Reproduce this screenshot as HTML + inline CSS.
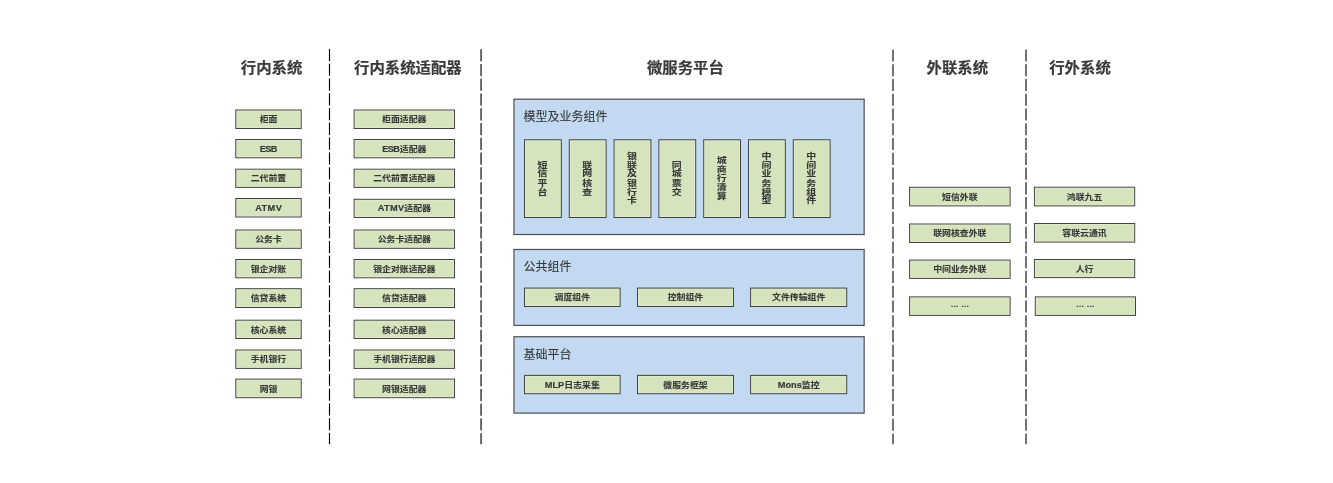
<!DOCTYPE html>
<html lang="zh-CN">
<head>
<meta charset="utf-8">
<title>微服务平台</title>
<style>
html,body{margin:0;padding:0;background:#fff;}
body{width:1333px;height:483px;overflow:hidden;position:relative;font-family:"Liberation Sans", "Noto Sans CJK SC", sans-serif;color:#404040;}
#stage{will-change:transform;position:absolute;left:0;top:0;width:1333px;height:483px;overflow:hidden;background:#fff;}
#stage svg{position:absolute;left:0;top:0;}
.hd,.lb,.vt{position:absolute;white-space:nowrap;font-weight:bold;}
.in{width:100%;height:100%;display:flex;align-items:center;justify-content:center;}
.hd{font-size:15.4px;line-height:24px;color:#393939;-webkit-text-stroke:0.2px #393939;}
.lb{font-size:8.9px;line-height:12px;color:#383838;-webkit-text-stroke:0.1px #383838;}
.la{display:inline-block;font-weight:bold;-webkit-text-stroke:0.18px #383838;transform:scaleY(1.1);transform-origin:50% 81%;}
.vt{font-size:8.9px;line-height:9.57px;text-align:center;color:#383838;-webkit-text-stroke:0.1px #383838;}
.vt span{display:block;width:1.3em;white-space:normal;word-break:break-all;}
.pl{position:absolute;font-size:12px;line-height:20px;white-space:nowrap;color:#363636;-webkit-text-stroke:0.1px #363636;}
.el{font-style:normal;position:relative;top:-3px;font-size:8.2px;font-weight:bold;}
</style>
</head>
<body>
<div id="stage">
<svg width="1333" height="483" viewBox="0 0 1333 483">
<line x1="329.50" y1="49.00" x2="329.50" y2="444.30" stroke="#000" stroke-width="1.15" stroke-dasharray="12.1 2.67"/>
<line x1="481.05" y1="49.20" x2="481.05" y2="444.30" stroke="#000" stroke-width="1.15" stroke-dasharray="12.1 2.67"/>
<line x1="893.00" y1="49.40" x2="893.00" y2="444.30" stroke="#000" stroke-width="1.1" stroke-dasharray="12.1 2.67"/>
<line x1="1026.00" y1="49.40" x2="1026.00" y2="444.30" stroke="#000" stroke-width="1.1" stroke-dasharray="12.1 2.67"/>
<rect x="235.80" y="110.00" width="65.40" height="18.50" fill="#d5e4bd" stroke="#424242" stroke-width="1"/>
<rect x="236.80" y="111.00" width="63.40" height="16.50" fill="none" stroke="#fff" stroke-opacity="0.22" stroke-width="1"/>
<rect x="235.80" y="139.50" width="65.40" height="18.30" fill="#d5e4bd" stroke="#424242" stroke-width="1"/>
<rect x="236.80" y="140.50" width="63.40" height="16.30" fill="none" stroke="#fff" stroke-opacity="0.22" stroke-width="1"/>
<rect x="235.80" y="169.20" width="65.40" height="18.20" fill="#d5e4bd" stroke="#424242" stroke-width="1"/>
<rect x="236.80" y="170.20" width="63.40" height="16.20" fill="none" stroke="#fff" stroke-opacity="0.22" stroke-width="1"/>
<rect x="235.80" y="198.50" width="65.40" height="18.50" fill="#d5e4bd" stroke="#424242" stroke-width="1"/>
<rect x="236.80" y="199.50" width="63.40" height="16.50" fill="none" stroke="#fff" stroke-opacity="0.22" stroke-width="1"/>
<rect x="235.80" y="230.00" width="65.40" height="18.30" fill="#d5e4bd" stroke="#424242" stroke-width="1"/>
<rect x="236.80" y="231.00" width="63.40" height="16.30" fill="none" stroke="#fff" stroke-opacity="0.22" stroke-width="1"/>
<rect x="235.80" y="259.50" width="65.40" height="18.30" fill="#d5e4bd" stroke="#424242" stroke-width="1"/>
<rect x="236.80" y="260.50" width="63.40" height="16.30" fill="none" stroke="#fff" stroke-opacity="0.22" stroke-width="1"/>
<rect x="235.80" y="288.70" width="65.40" height="18.80" fill="#d5e4bd" stroke="#424242" stroke-width="1"/>
<rect x="236.80" y="289.70" width="63.40" height="16.80" fill="none" stroke="#fff" stroke-opacity="0.22" stroke-width="1"/>
<rect x="235.80" y="320.20" width="65.40" height="18.30" fill="#d5e4bd" stroke="#424242" stroke-width="1"/>
<rect x="236.80" y="321.20" width="63.40" height="16.30" fill="none" stroke="#fff" stroke-opacity="0.22" stroke-width="1"/>
<rect x="235.80" y="350.00" width="65.40" height="18.40" fill="#d5e4bd" stroke="#424242" stroke-width="1"/>
<rect x="236.80" y="351.00" width="63.40" height="16.40" fill="none" stroke="#fff" stroke-opacity="0.22" stroke-width="1"/>
<rect x="235.80" y="379.10" width="65.40" height="18.60" fill="#d5e4bd" stroke="#424242" stroke-width="1"/>
<rect x="236.80" y="380.10" width="63.40" height="16.60" fill="none" stroke="#fff" stroke-opacity="0.22" stroke-width="1"/>
<rect x="354.10" y="110.00" width="100.40" height="18.50" fill="#d5e4bd" stroke="#424242" stroke-width="1"/>
<rect x="355.10" y="111.00" width="98.40" height="16.50" fill="none" stroke="#fff" stroke-opacity="0.22" stroke-width="1"/>
<rect x="354.10" y="139.50" width="100.40" height="18.30" fill="#d5e4bd" stroke="#424242" stroke-width="1"/>
<rect x="355.10" y="140.50" width="98.40" height="16.30" fill="none" stroke="#fff" stroke-opacity="0.22" stroke-width="1"/>
<rect x="354.10" y="169.20" width="100.40" height="18.20" fill="#d5e4bd" stroke="#424242" stroke-width="1"/>
<rect x="355.10" y="170.20" width="98.40" height="16.20" fill="none" stroke="#fff" stroke-opacity="0.22" stroke-width="1"/>
<rect x="354.10" y="199.30" width="100.40" height="18.20" fill="#d5e4bd" stroke="#424242" stroke-width="1"/>
<rect x="355.10" y="200.30" width="98.40" height="16.20" fill="none" stroke="#fff" stroke-opacity="0.22" stroke-width="1"/>
<rect x="354.10" y="230.00" width="100.40" height="18.30" fill="#d5e4bd" stroke="#424242" stroke-width="1"/>
<rect x="355.10" y="231.00" width="98.40" height="16.30" fill="none" stroke="#fff" stroke-opacity="0.22" stroke-width="1"/>
<rect x="354.10" y="259.50" width="100.40" height="18.30" fill="#d5e4bd" stroke="#424242" stroke-width="1"/>
<rect x="355.10" y="260.50" width="98.40" height="16.30" fill="none" stroke="#fff" stroke-opacity="0.22" stroke-width="1"/>
<rect x="354.10" y="288.70" width="100.40" height="18.80" fill="#d5e4bd" stroke="#424242" stroke-width="1"/>
<rect x="355.10" y="289.70" width="98.40" height="16.80" fill="none" stroke="#fff" stroke-opacity="0.22" stroke-width="1"/>
<rect x="354.10" y="320.20" width="100.40" height="18.30" fill="#d5e4bd" stroke="#424242" stroke-width="1"/>
<rect x="355.10" y="321.20" width="98.40" height="16.30" fill="none" stroke="#fff" stroke-opacity="0.22" stroke-width="1"/>
<rect x="354.10" y="350.00" width="100.40" height="18.40" fill="#d5e4bd" stroke="#424242" stroke-width="1"/>
<rect x="355.10" y="351.00" width="98.40" height="16.40" fill="none" stroke="#fff" stroke-opacity="0.22" stroke-width="1"/>
<rect x="354.10" y="379.10" width="100.40" height="18.60" fill="#d5e4bd" stroke="#424242" stroke-width="1"/>
<rect x="355.10" y="380.10" width="98.40" height="16.60" fill="none" stroke="#fff" stroke-opacity="0.22" stroke-width="1"/>
<rect x="514.00" y="99.20" width="350.14" height="135.29" fill="#c3d9f1" stroke="#4b5057" stroke-width="1.25"/>
<rect x="515.13" y="100.33" width="347.89" height="133.04" fill="none" stroke="#fff" stroke-opacity="0.12" stroke-width="1"/>
<rect x="514.00" y="249.50" width="350.14" height="75.89" fill="#c3d9f1" stroke="#4b5057" stroke-width="1.25"/>
<rect x="515.13" y="250.63" width="347.89" height="73.64" fill="none" stroke="#fff" stroke-opacity="0.12" stroke-width="1"/>
<rect x="514.00" y="336.75" width="350.14" height="76.34" fill="#c3d9f1" stroke="#4b5057" stroke-width="1.25"/>
<rect x="515.13" y="337.88" width="347.89" height="74.09" fill="none" stroke="#fff" stroke-opacity="0.12" stroke-width="1"/>
<rect x="524.50" y="139.80" width="36.80" height="77.70" fill="#d5e4bd" stroke="#424242" stroke-width="1"/>
<rect x="525.50" y="140.80" width="34.80" height="75.70" fill="none" stroke="#fff" stroke-opacity="0.22" stroke-width="1"/>
<rect x="569.30" y="139.80" width="36.80" height="77.70" fill="#d5e4bd" stroke="#424242" stroke-width="1"/>
<rect x="570.30" y="140.80" width="34.80" height="75.70" fill="none" stroke="#fff" stroke-opacity="0.22" stroke-width="1"/>
<rect x="614.10" y="139.80" width="36.80" height="77.70" fill="#d5e4bd" stroke="#424242" stroke-width="1"/>
<rect x="615.10" y="140.80" width="34.80" height="75.70" fill="none" stroke="#fff" stroke-opacity="0.22" stroke-width="1"/>
<rect x="658.90" y="139.80" width="36.80" height="77.70" fill="#d5e4bd" stroke="#424242" stroke-width="1"/>
<rect x="659.90" y="140.80" width="34.80" height="75.70" fill="none" stroke="#fff" stroke-opacity="0.22" stroke-width="1"/>
<rect x="703.70" y="139.80" width="36.80" height="77.70" fill="#d5e4bd" stroke="#424242" stroke-width="1"/>
<rect x="704.70" y="140.80" width="34.80" height="75.70" fill="none" stroke="#fff" stroke-opacity="0.22" stroke-width="1"/>
<rect x="748.50" y="139.80" width="36.80" height="77.70" fill="#d5e4bd" stroke="#424242" stroke-width="1"/>
<rect x="749.50" y="140.80" width="34.80" height="75.70" fill="none" stroke="#fff" stroke-opacity="0.22" stroke-width="1"/>
<rect x="793.30" y="139.80" width="36.80" height="77.70" fill="#d5e4bd" stroke="#424242" stroke-width="1"/>
<rect x="794.30" y="140.80" width="34.80" height="75.70" fill="none" stroke="#fff" stroke-opacity="0.22" stroke-width="1"/>
<rect x="524.50" y="288.10" width="95.60" height="18.40" fill="#d5e4bd" stroke="#424242" stroke-width="1"/>
<rect x="525.50" y="289.10" width="93.60" height="16.40" fill="none" stroke="#fff" stroke-opacity="0.22" stroke-width="1"/>
<rect x="637.50" y="288.10" width="96.00" height="18.40" fill="#d5e4bd" stroke="#424242" stroke-width="1"/>
<rect x="638.50" y="289.10" width="94.00" height="16.40" fill="none" stroke="#fff" stroke-opacity="0.22" stroke-width="1"/>
<rect x="750.60" y="288.10" width="96.10" height="18.40" fill="#d5e4bd" stroke="#424242" stroke-width="1"/>
<rect x="751.60" y="289.10" width="94.10" height="16.40" fill="none" stroke="#fff" stroke-opacity="0.22" stroke-width="1"/>
<rect x="524.50" y="375.40" width="95.60" height="18.30" fill="#d5e4bd" stroke="#424242" stroke-width="1"/>
<rect x="525.50" y="376.40" width="93.60" height="16.30" fill="none" stroke="#fff" stroke-opacity="0.22" stroke-width="1"/>
<rect x="637.50" y="375.40" width="96.00" height="18.30" fill="#d5e4bd" stroke="#424242" stroke-width="1"/>
<rect x="638.50" y="376.40" width="94.00" height="16.30" fill="none" stroke="#fff" stroke-opacity="0.22" stroke-width="1"/>
<rect x="750.60" y="375.40" width="96.10" height="18.30" fill="#d5e4bd" stroke="#424242" stroke-width="1"/>
<rect x="751.60" y="376.40" width="94.10" height="16.30" fill="none" stroke="#fff" stroke-opacity="0.22" stroke-width="1"/>
<rect x="909.60" y="187.30" width="100.50" height="18.60" fill="#d5e4bd" stroke="#424242" stroke-width="1"/>
<rect x="910.60" y="188.30" width="98.50" height="16.60" fill="none" stroke="#fff" stroke-opacity="0.22" stroke-width="1"/>
<rect x="909.60" y="224.00" width="100.50" height="18.50" fill="#d5e4bd" stroke="#424242" stroke-width="1"/>
<rect x="910.60" y="225.00" width="98.50" height="16.50" fill="none" stroke="#fff" stroke-opacity="0.22" stroke-width="1"/>
<rect x="909.60" y="260.10" width="100.50" height="18.30" fill="#d5e4bd" stroke="#424242" stroke-width="1"/>
<rect x="910.60" y="261.10" width="98.50" height="16.30" fill="none" stroke="#fff" stroke-opacity="0.22" stroke-width="1"/>
<rect x="909.60" y="296.90" width="100.50" height="18.50" fill="#d5e4bd" stroke="#424242" stroke-width="1"/>
<rect x="910.60" y="297.90" width="98.50" height="16.50" fill="none" stroke="#fff" stroke-opacity="0.22" stroke-width="1"/>
<rect x="1034.40" y="187.20" width="100.30" height="18.70" fill="#d5e4bd" stroke="#424242" stroke-width="1"/>
<rect x="1035.40" y="188.20" width="98.30" height="16.70" fill="none" stroke="#fff" stroke-opacity="0.22" stroke-width="1"/>
<rect x="1034.40" y="223.50" width="100.30" height="18.60" fill="#d5e4bd" stroke="#424242" stroke-width="1"/>
<rect x="1035.40" y="224.50" width="98.30" height="16.60" fill="none" stroke="#fff" stroke-opacity="0.22" stroke-width="1"/>
<rect x="1034.40" y="259.50" width="100.30" height="18.10" fill="#d5e4bd" stroke="#424242" stroke-width="1"/>
<rect x="1035.40" y="260.50" width="98.30" height="16.10" fill="none" stroke="#fff" stroke-opacity="0.22" stroke-width="1"/>
<rect x="1035.30" y="296.90" width="100.20" height="18.50" fill="#d5e4bd" stroke="#424242" stroke-width="1"/>
<rect x="1036.30" y="297.90" width="98.20" height="16.50" fill="none" stroke="#fff" stroke-opacity="0.22" stroke-width="1"/>
</svg>
<div class="hd" style="left:171px;top:56px;width:200px;height:24px"><div class="in" style="transform:translateX(0.60px) scale(1.0,0.94)"><span>行内系统</span></div></div>
<div class="hd" style="left:307px;top:56px;width:200px;height:24px"><div class="in" style="transform:translateX(0.90px) scale(1.0,0.94)"><span>行内系统适配器</span></div></div>
<div class="hd" style="left:585px;top:56px;width:200px;height:24px"><div class="in" style="transform:translateX(0.40px) scale(1.0,0.94)"><span>微服务平台</span></div></div>
<div class="hd" style="left:857px;top:56px;width:200px;height:24px"><div class="in" style="transform:translateX(0.30px) scale(1.0,0.94)"><span>外联系统</span></div></div>
<div class="hd" style="left:980px;top:56px;width:200px;height:24px"><div class="in" style="transform:translateX(0.00px) scale(1.0,0.94)"><span>行外系统</span></div></div>
<div class="lb" style="left:214px;top:109px;width:108px;height:20px"><div class="in" style="transform:translateX(0.50px) scale(1.0,0.93)"><span>柜面</span></div></div>
<div class="lb" style="left:214px;top:139px;width:108px;height:20px"><div class="in" style="transform:translateX(0.50px) scale(1.0,0.93)"><span><b class="la" style="font-size:9.2px;letter-spacing:-0.65px;margin-right:0.65px">ESB</b></span></div></div>
<div class="lb" style="left:214px;top:168px;width:108px;height:20px"><div class="in" style="transform:translateX(0.50px) scale(1.0,0.93)"><span>二代前置</span></div></div>
<div class="lb" style="left:214px;top:198px;width:108px;height:20px"><div class="in" style="transform:translateX(0.50px) scale(1.0,0.93)"><span><b class="la" style="font-size:9.2px;letter-spacing:0.40px;margin-right:-0.40px">ATMV</b></span></div></div>
<div class="lb" style="left:214px;top:229px;width:108px;height:20px"><div class="in" style="transform:translateX(0.50px) scale(1.0,0.93)"><span>公务卡</span></div></div>
<div class="lb" style="left:214px;top:259px;width:108px;height:20px"><div class="in" style="transform:translateX(0.50px) scale(1.0,0.93)"><span>银企对账</span></div></div>
<div class="lb" style="left:214px;top:288px;width:108px;height:20px"><div class="in" style="transform:translateX(0.50px) scale(1.0,0.93)"><span>信贷系统</span></div></div>
<div class="lb" style="left:214px;top:320px;width:108px;height:20px"><div class="in" style="transform:translateX(0.50px) scale(1.0,0.93)"><span>核心系统</span></div></div>
<div class="lb" style="left:214px;top:349px;width:108px;height:20px"><div class="in" style="transform:translateX(0.50px) scale(1.0,0.93)"><span>手机银行</span></div></div>
<div class="lb" style="left:214px;top:379px;width:108px;height:20px"><div class="in" style="transform:translateX(0.50px) scale(1.0,0.93)"><span>网银</span></div></div>
<div class="lb" style="left:333px;top:109px;width:142px;height:20px"><div class="in" style="transform:translateX(0.30px) scale(1.0,0.93)"><span>柜面适配器</span></div></div>
<div class="lb" style="left:333px;top:139px;width:142px;height:20px"><div class="in" style="transform:translateX(0.30px) scale(1.0,0.93)"><span><b class="la" style="font-size:9.2px;letter-spacing:-0.65px;margin-right:0.65px">ESB</b>适配器</span></div></div>
<div class="lb" style="left:333px;top:168px;width:142px;height:20px"><div class="in" style="transform:translateX(0.30px) scale(1.0,0.93)"><span>二代前置适配器</span></div></div>
<div class="lb" style="left:333px;top:198px;width:142px;height:20px"><div class="in" style="transform:translateX(0.30px) scale(1.0,0.93)"><span><b class="la" style="font-size:9.2px;letter-spacing:0.40px;margin-right:-0.40px">ATMV</b>适配器</span></div></div>
<div class="lb" style="left:333px;top:229px;width:142px;height:20px"><div class="in" style="transform:translateX(0.30px) scale(1.0,0.93)"><span>公务卡适配器</span></div></div>
<div class="lb" style="left:333px;top:259px;width:142px;height:20px"><div class="in" style="transform:translateX(0.30px) scale(1.0,0.93)"><span>银企对账适配器</span></div></div>
<div class="lb" style="left:333px;top:288px;width:142px;height:20px"><div class="in" style="transform:translateX(0.30px) scale(1.0,0.93)"><span>信贷适配器</span></div></div>
<div class="lb" style="left:333px;top:320px;width:142px;height:20px"><div class="in" style="transform:translateX(0.30px) scale(1.0,0.93)"><span>核心适配器</span></div></div>
<div class="lb" style="left:333px;top:349px;width:142px;height:20px"><div class="in" style="transform:translateX(0.30px) scale(1.0,0.93)"><span>手机银行适配器</span></div></div>
<div class="lb" style="left:333px;top:379px;width:142px;height:20px"><div class="in" style="transform:translateX(0.30px) scale(1.0,0.93)"><span>网银适配器</span></div></div>
<div class="pl" style="left:523px;top:107px;transform:translateX(0.5px)">模型及业务组件</div>
<div class="pl" style="left:523px;top:257px;transform:translateX(0.5px)">公共组件</div>
<div class="pl" style="left:523px;top:345px;transform:translateX(0.5px)">基础平台</div>
<div class="vt" style="left:503px;top:139px;width:78px;height:80px"><div class="in" style="transform:translateX(0.40px) scale(1.12,0.93)"><span>短信平台</span></div></div>
<div class="vt" style="left:548px;top:139px;width:78px;height:80px"><div class="in" style="transform:translateX(0.20px) scale(1.12,0.93)"><span>联网核查</span></div></div>
<div class="vt" style="left:593px;top:139px;width:78px;height:80px"><div class="in" style="transform:translateX(0.00px) scale(1.12,0.93)"><span>银联及银行卡</span></div></div>
<div class="vt" style="left:637px;top:139px;width:78px;height:80px"><div class="in" style="transform:translateX(0.80px) scale(1.12,0.93)"><span>同城票交</span></div></div>
<div class="vt" style="left:682px;top:139px;width:78px;height:80px"><div class="in" style="transform:translateX(0.60px) scale(1.12,0.93)"><span>城商行清算</span></div></div>
<div class="vt" style="left:727px;top:139px;width:78px;height:80px"><div class="in" style="transform:translateX(0.40px) scale(1.12,0.93)"><span>中间业务模型</span></div></div>
<div class="vt" style="left:772px;top:139px;width:78px;height:80px"><div class="in" style="transform:translateX(0.20px) scale(1.12,0.93)"><span>中间业务组件</span></div></div>
<div class="lb" style="left:503px;top:287px;width:138px;height:20px"><div class="in" style="transform:translateX(0.30px) scale(1.0,0.93)"><span>调度组件</span></div></div>
<div class="lb" style="left:616px;top:287px;width:138px;height:20px"><div class="in" style="transform:translateX(0.50px) scale(1.0,0.93)"><span>控制组件</span></div></div>
<div class="lb" style="left:729px;top:287px;width:138px;height:20px"><div class="in" style="transform:translateX(0.65px) scale(1.0,0.93)"><span>文件传输组件</span></div></div>
<div class="lb" style="left:503px;top:375px;width:138px;height:20px"><div class="in" style="transform:translateX(0.30px) scale(1.0,0.93)"><span><b class="la" style="font-size:9.2px;letter-spacing:0.00px;margin-right:0.00px">MLP</b>日志采集</span></div></div>
<div class="lb" style="left:616px;top:375px;width:138px;height:20px"><div class="in" style="transform:translateX(0.50px) scale(1.0,0.93)"><span>微服务框架</span></div></div>
<div class="lb" style="left:729px;top:375px;width:138px;height:20px"><div class="in" style="transform:translateX(0.65px) scale(1.0,0.93)"><span><b class="la" style="font-size:9.2px;letter-spacing:0.00px;margin-right:0.00px">Mons</b>监控</span></div></div>
<div class="lb" style="left:888px;top:187px;width:142px;height:20px"><div class="in" style="transform:translateX(0.85px) scale(1.0,0.93)"><span>短信外联</span></div></div>
<div class="lb" style="left:888px;top:223px;width:142px;height:20px"><div class="in" style="transform:translateX(0.85px) scale(1.0,0.93)"><span>联网核查外联</span></div></div>
<div class="lb" style="left:888px;top:259px;width:142px;height:20px"><div class="in" style="transform:translateX(0.85px) scale(1.0,0.93)"><span>中间业务外联</span></div></div>
<div class="lb" style="left:888px;top:297px;width:142px;height:20px"><div class="in" style="transform:translateX(0.85px) scale(1.0,0.93)"><span><i class="el">… …</i></span></div></div>
<div class="lb" style="left:1013px;top:187px;width:142px;height:20px"><div class="in" style="transform:translateX(0.55px) scale(1.0,0.93)"><span>鸿联九五</span></div></div>
<div class="lb" style="left:1013px;top:223px;width:142px;height:20px"><div class="in" style="transform:translateX(0.55px) scale(1.0,0.93)"><span>容联云通讯</span></div></div>
<div class="lb" style="left:1013px;top:259px;width:142px;height:20px"><div class="in" style="transform:translateX(0.55px) scale(1.0,0.93)"><span>人行</span></div></div>
<div class="lb" style="left:1014px;top:297px;width:142px;height:20px"><div class="in" style="transform:translateX(0.40px) scale(1.0,0.93)"><span><i class="el">… …</i></span></div></div>
</div>
</body>
</html>
